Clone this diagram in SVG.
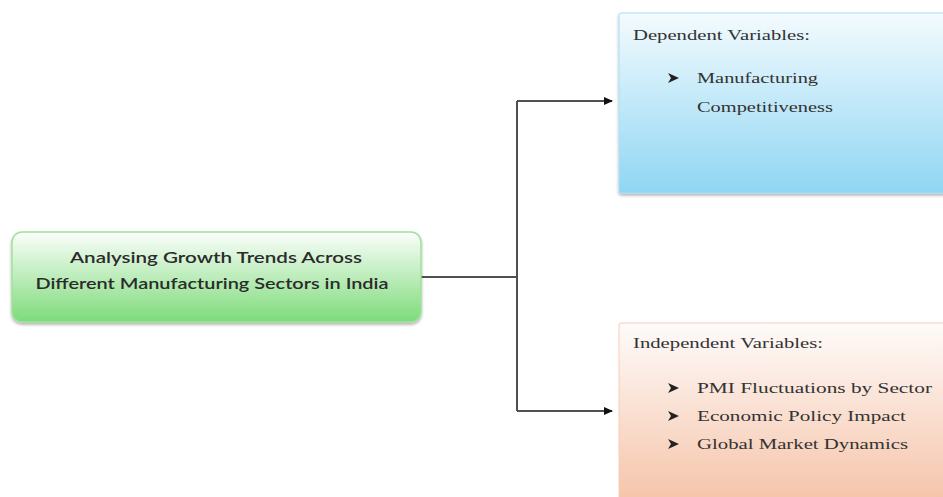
<svg xmlns="http://www.w3.org/2000/svg" width="943" height="497" viewBox="0 0 943 497">
<style>
.serif{font-family:"Liberation Serif","Times New Roman",serif;font-size:15px;fill:#333}
.bul{fill:#222}
.sans{font-family:Lato,"Liberation Sans",Arial,sans-serif;font-size:16px;font-weight:600;fill:#2b2b2b}
.conn{stroke:#505050;stroke-width:2;fill:none}
</style>
<defs>
<linearGradient id="gGreen" x1="0" y1="0" x2="0" y2="1"><stop offset="0" stop-color="#fbfefb"/><stop offset="1" stop-color="#7ddb7a"/></linearGradient>
<linearGradient id="gBlue" x1="0" y1="0" x2="0" y2="1"><stop offset="0" stop-color="#f4fbfe"/><stop offset="1" stop-color="#8fd6f3"/></linearGradient>
<linearGradient id="gOrange" x1="0" y1="0" x2="0" y2="1"><stop offset="0" stop-color="#fefbfa"/><stop offset="1" stop-color="#f5c2a6"/></linearGradient>
<filter id="sh" x="-5%" y="-5%" width="110%" height="120%"><feDropShadow dx="0" dy="2" stdDeviation="1.5" flood-color="#000" flood-opacity="0.3"/></filter>
<marker id="arr" markerWidth="10" markerHeight="10" refX="8" refY="5" orient="auto" markerUnits="userSpaceOnUse"><path d="M0,1 L9,5 L0,9 Z" fill="#111"/></marker>
<path id="b" class="bul" d="M0,-5 L11,0 L0,5 L3,0 Z"/>
</defs>
<g id="connectors">
<path class="conn" d="M421,277 H517"/>
<path class="conn" d="M517,101 V411"/>
<path class="conn" d="M517,101 H612" marker-end="url(#arr)"/>
<path class="conn" d="M517,411 H612" marker-end="url(#arr)"/>
</g>
<g id="main">
<rect x="12" y="232" width="409" height="90" rx="10" fill="url(#gGreen)" stroke="#9fe29b" stroke-width="1.5" filter="url(#sh)"/>
<text class="sans" x="216" y="263" text-anchor="middle" textLength="292" lengthAdjust="spacingAndGlyphs">Analysing Growth Trends Across</text>
<text class="sans" x="212" y="289" text-anchor="middle" textLength="353" lengthAdjust="spacingAndGlyphs">Different Manufacturing Sectors in India</text>
</g>
<g id="dependent">
<rect x="619" y="13" width="330" height="180" rx="2" fill="url(#gBlue)" stroke="#a9def4" stroke-width="1" filter="url(#sh)"/>
<text class="serif" x="633" y="40" textLength="177" lengthAdjust="spacingAndGlyphs">Dependent Variables:</text>
<use href="#b" x="668" y="78"/>
<text class="serif" x="697" y="83" textLength="121" lengthAdjust="spacingAndGlyphs">Manufacturing</text>
<text class="serif" x="697" y="112" textLength="136" lengthAdjust="spacingAndGlyphs">Competitiveness</text>
</g>
<g id="independent">
<rect x="619" y="323" width="330" height="185" rx="2" fill="url(#gOrange)" stroke="#f5cdb8" stroke-width="1"/>
<text class="serif" x="633" y="348" textLength="190" lengthAdjust="spacingAndGlyphs">Independent Variables:</text>
<use href="#b" x="668" y="388"/>
<text class="serif" x="697" y="393" textLength="235" lengthAdjust="spacingAndGlyphs">PMI Fluctuations by Sector</text>
<use href="#b" x="668" y="416"/>
<text class="serif" x="697" y="421" textLength="209" lengthAdjust="spacingAndGlyphs">Economic Policy Impact</text>
<use href="#b" x="668" y="444"/>
<text class="serif" x="697" y="449" textLength="211" lengthAdjust="spacingAndGlyphs">Global Market Dynamics</text>
</g>
</svg>
